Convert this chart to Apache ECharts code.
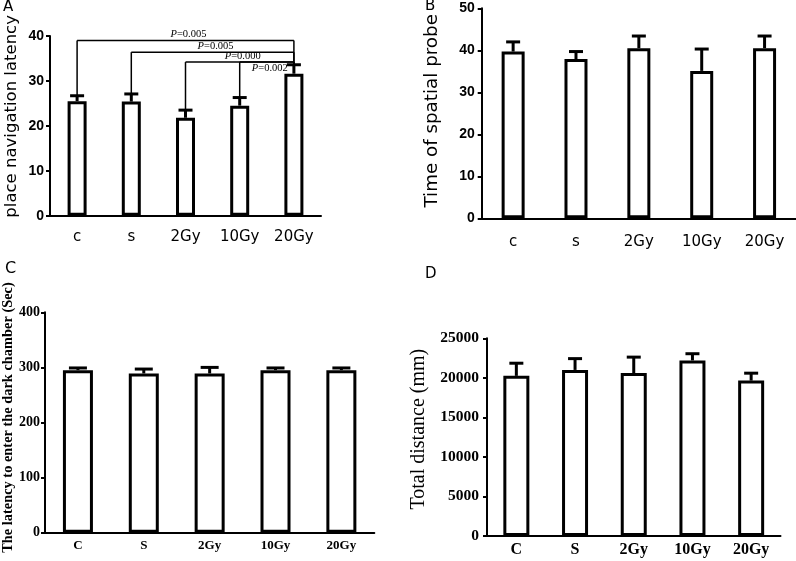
<!DOCTYPE html>
<html>
<head>
<meta charset="utf-8">
<script src="https://cdn.jsdelivr.net/npm/echarts@6/dist/echarts.min.js"></script>
<style>html,body{margin:0;padding:0;background:#fff}#c{width:796px;height:561px}</style>
</head>
<body>
<div id="c"></div>
<script>
// ---- data ----
const catsAB = ['c', 's', '2Gy', '10Gy', '20Gy'];
const catsCD = ['C', 'S', '2Gy', '10Gy', '20Gy'];

const meanA = [25.5, 25.4, 21.8, 24.5, 31.6];
const semA  = [1.2, 1.7, 1.7, 1.8, 2.0];

const meanB = [39.7, 37.9, 40.5, 35.1, 40.5];
const semB  = [2.3, 1.8, 2.9, 5.2, 2.9];

const meanC = [295, 289, 289, 295, 295];
const semC  = [4, 8, 11, 4, 4];

const meanD = [20250, 21000, 20600, 22200, 19650];
const semD  = [1600, 1430, 2020, 850, 940];

// significance brackets in panel A
const brFrom  = [0, 1, 2, 3];
const brTo    = [4, 4, 4, 4];
const brLevel = [39.0, 36.4, 34.2, 34.2];
const brText  = ['0.005', '0.005', '0.000', '0.002'];
const brSide  = ['top', 'top', 'top', 'bottom'];

const titleA = 'place navigation latency';
const titleB = 'Time of spatial probe';
const titleC = 'The latency to enter the dark chamber (Sec)';
const titleD = 'Total distance (mm)';

// ---- chart ----
const chart = echarts.init(document.getElementById('c'), null, {renderer: 'canvas'});
const SANS = 'DejaVu Sans';
const ARIAL = 'Liberation Sans';
const SERIF = 'Liberation Serif';

function errSeries(idx, mean, sem, capW) {
  return {
    type: 'custom', xAxisIndex: idx, yAxisIndex: idx, z: 5, clip: false,
    data: mean.map((m, i) => [i, m, sem[i]]),
    encode: {x: 0, y: 1},
    renderItem: function (params, api) {
      const x = api.value(0), m = api.value(1), e = api.value(2);
      const b = api.coord([x, m]);
      const t = api.coord([x, m + e]);
      return {type: 'group', children: [
        {type: 'line', shape: {x1: b[0], y1: b[1], x2: t[0], y2: t[1]}, style: {stroke: '#000', lineWidth: 3}},
        {type: 'line', shape: {x1: t[0] - capW / 2, y1: t[1], x2: t[0] + capW / 2, y2: t[1]}, style: {stroke: '#000', lineWidth: 3}}
      ]};
    }
  };
}
function barSeries(idx, mean, bw) {
  return {
    type: 'bar', xAxisIndex: idx, yAxisIndex: idx, data: mean, barWidth: bw,
    itemStyle: {color: '#fff', borderColor: '#000', borderWidth: 3},
    emphasis: {disabled: true}, silent: true, animation: false
  };
}
function xAx(idx, cats, lab, margin) {
  return {
    type: 'category', gridIndex: idx, data: cats,
    axisLine: {lineStyle: {color: '#000', width: 2}},
    axisTick: {alignWithLabel: true, length: 4, lineStyle: {color: '#000', width: 2}},
    axisLabel: Object.assign({color: '#000', margin: margin, interval: 0}, lab)
  };
}
function yAx(idx, max, itv, lab, margin, name, nameStyle, gap) {
  return {
    type: 'value', gridIndex: idx, min: 0, max: max, interval: itv,
    splitLine: {show: false},
    axisLine: {show: true, lineStyle: {color: '#000', width: 2}},
    axisTick: {show: true, length: 4, lineStyle: {color: '#000', width: 2}},
    axisLabel: Object.assign({color: '#000', margin: margin, formatter: v => String(v)}, lab),
    name: name, nameLocation: 'middle', nameGap: gap,
    nameTextStyle: Object.assign({color: '#000'}, nameStyle)
  };
}

const bracketSeries = {
  type: 'custom', xAxisIndex: 0, yAxisIndex: 0, z: 6, clip: false,
  data: brFrom.map((f, i) => [f, brLevel[i]]),
  renderItem: function (params, api) {
    const i = params.dataIndex;
    const f = brFrom[i], t = brTo[i], lv = brLevel[i];
    const pF = api.coord([f, meanA[f] + semA[f]]);
    const pT = api.coord([t, meanA[t] + semA[t]]);
    const lF = api.coord([f, lv]);
    const lT = api.coord([t, lv]);
    const st = {stroke: '#000', lineWidth: 1.5};
    const midX = (lF[0] + lT[0]) / 2 + 3;
    const below = brSide[i] === 'bottom';
    return {type: 'group', children: [
      {type: 'line', shape: {x1: pF[0], y1: pF[1], x2: lF[0], y2: lF[1]}, style: st},
      {type: 'line', shape: {x1: lF[0], y1: lF[1], x2: lT[0], y2: lT[1]}, style: st},
      {type: 'line', shape: {x1: lT[0], y1: lT[1], x2: pT[0], y2: pT[1]}, style: st},
      {type: 'text', x: midX, y: below ? lF[1] + 1 : lF[1] - 0.5,
        style: {text: '{i|P}=' + brText[i], rich: {i: {fontStyle: 'italic', fontFamily: SERIF, fontSize: 10.5}},
          fontFamily: SERIF, fontSize: 10.5, fill: '#000', align: 'center',
          verticalAlign: below ? 'top' : 'bottom'}}
    ]};
  }
};

const labAB = {fontFamily: SANS, fontSize: 15};
const labYAB = {fontFamily: ARIAL, fontSize: 14, fontWeight: 'bold'};
const labXC = {fontFamily: SERIF, fontSize: 13, fontWeight: 'bold'};
const labYC = {fontFamily: SERIF, fontSize: 14, fontWeight: 'bold'};
const labXD = {fontFamily: SERIF, fontSize: 16, fontWeight: 'bold'};
const labYD = {fontFamily: SERIF, fontSize: 15.5, fontWeight: 'bold'};

const option = {
  backgroundColor: '#fff',
  animation: false,
  grid: [
    {left: 50, top: 36, width: 271, height: 179.7},
    {left: 481.7, top: 8.3, width: 316.7, height: 210},
    {left: 43.3, top: 312.3, width: 331, height: 220.4},
    {left: 487, top: 338.3, width: 293.5, height: 197.7}
  ],
  xAxis: [
    xAx(0, catsAB, labAB, 14),
    xAx(1, catsAB, labAB, 16),
    xAx(2, catsCD, labXC, 6),
    xAx(3, catsCD, labXD, 6)
  ],
  yAxis: [
    yAx(0, 40, 10, labYAB, 6, titleA, {fontFamily: SANS, fontSize: 16.5, padding: [0, 0, 0, 19]}, 30),
    yAx(1, 50, 10, labYAB, 7, titleB, {fontFamily: SANS, fontSize: 18.3, padding: [0, 0, 0, 5]}, 40),
    yAx(2, 400, 100, labYC, 5, titleC, {fontFamily: SERIF, fontSize: 14.4, fontWeight: 'bold', padding: [0, 0, 0, 10]}, 30),
    yAx(3, 25000, 5000, labYD, 8, titleD, {fontFamily: SERIF, fontSize: 20, padding: [0, 0, 0, 16]}, 58)
  ],
  series: [
    barSeries(0, meanA, 19), errSeries(0, meanA, semA, 14),
    barSeries(1, meanB, 23), errSeries(1, meanB, semB, 14),
    barSeries(2, meanC, 30), errSeries(2, meanC, semC, 18),
    barSeries(3, meanD, 26), errSeries(3, meanD, semD, 14),
    bracketSeries
  ],
  graphic: [
    {type: 'text', left: 3, top: 0, style: {text: 'A', fontFamily: SANS, fontSize: 15, fill: '#000'}},
    {type: 'text', left: 425, top: -1, style: {text: 'B', fontFamily: SANS, fontSize: 15, fill: '#000'}},
    {type: 'text', left: 5, top: 261, style: {text: 'C', fontFamily: SANS, fontSize: 16, fill: '#000'}},
    {type: 'text', left: 425, top: 267, style: {text: 'D', fontFamily: SANS, fontSize: 15, fill: '#000'}}
  ]
};
chart.setOption(option);
</script>
</body>
</html>
